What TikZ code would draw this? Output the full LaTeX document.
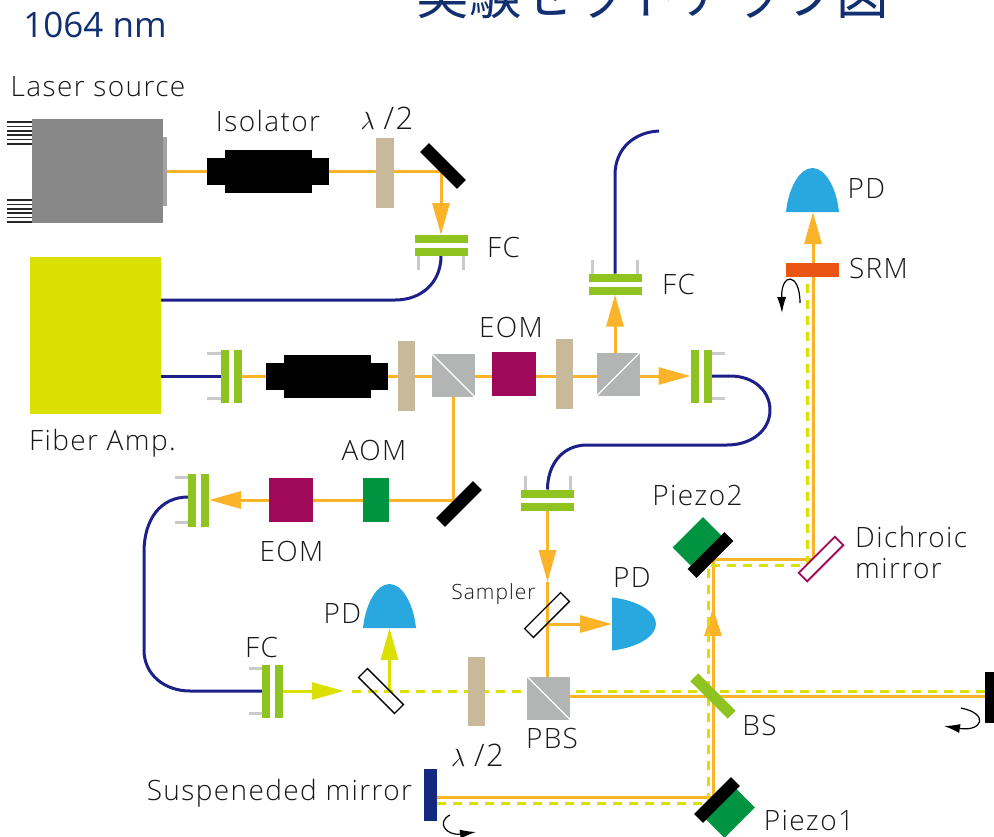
\documentclass[tikz,border=0pt]{standalone}
\usepackage{fontspec}
\setmainfont[LetterSpace=5]{Open Sans Light}
\newfontfamily\cjkfont{Noto Sans CJK JP}
\newfontfamily\headfont{Open Sans}
\usetikzlibrary{arrows.meta,backgrounds}
\definecolor{beamorange}{HTML}{FBB42A}
\definecolor{beamyellow}{HTML}{DCE000}
\definecolor{fibernavy}{HTML}{1D2088}
\definecolor{fcgreen}{HTML}{8FC31F}
\definecolor{waveplate}{HTML}{C8B99A}
\definecolor{cubegray}{HTML}{B3B5B4}
\definecolor{eomred}{HTML}{A0095A}
\definecolor{aomgreen}{HTML}{009440}
\definecolor{pdblue}{HTML}{29A8E0}
\definecolor{srmorange}{HTML}{EA5514}
\definecolor{titlenavy}{HTML}{12306F}
\definecolor{smirnavy}{HTML}{13297F}
\definecolor{laserbody}{HTML}{888888}
\definecolor{laserface}{HTML}{A3A3A3}
\definecolor{legsgray}{HTML}{C9CACA}
\tikzset{
  fibercoupler/.pic={
    \fill[legsgray] (-24,10) rectangle (-21,24);
    \fill[legsgray] (21,10) rectangle (24,24);
    \fill[fcgreen] (-26.5,-10.5) rectangle (26.5,-2.5);
    \fill[fcgreen] (-26.5,2.5) rectangle (26.5,10.5);
    \coordinate (-front) at (0,-10.5);
    \coordinate (-back) at (0,10.5);
  },
  photodiode/.pic={
    \fill[pdblue] (-26.5,0) .. controls (-24,-24) and (-13,-44) .. (0,-44) .. controls (13,-44) and (24,-24) .. (26.5,0) -- cycle;
    \coordinate (-base) at (0,0);
  }
}
\begin{document}
\begin{tikzpicture}[x=1pt,y=-1pt]
        \tikzstyle{block}=[rectangle,inner sep=0pt,outer sep=0pt]
        \tikzstyle{eom}=[block,fill=eomred,minimum width=44pt,minimum height=44pt]
        \tikzstyle{aom}=[block,fill=aomgreen,minimum width=26.5pt,minimum height=44pt]
        \tikzstyle{halfwave}=[block,fill=waveplate,minimum width=17.5pt,minimum height=69.5pt]
        \tikzstyle{cube}=[block,fill=cubegray,minimum width=43pt,minimum height=43pt]
        \tikzstyle{mirror}=[block,fill=black,minimum width=52pt,minimum height=12.5pt]
        \tikzstyle{sampler}=[block,draw=black,line width=1.3pt,minimum width=51pt,minimum height=12.5pt]
        \tikzstyle{pzt}=[block,fill=aomgreen,minimum width=43pt,minimum height=26pt]
        \tikzstyle{isoend}=[block,fill=black,minimum width=122pt,minimum height=27pt]
        \tikzstyle{isobody}=[block,fill=black,minimum width=87pt,minimum height=43pt]
        \tikzstyle{lbl}=[inner sep=0pt,text=black!90,font=\fontsize{28}{32}\selectfont]
        \tikzstyle{lamb}=[lbl,font=\fontsize{31}{36}\selectfont]
        \tikzstyle{beam}=[draw=beamorange,line width=3pt]
        \tikzstyle{seed}=[draw=beamyellow,line width=3pt]
        \tikzstyle{seeddash}=[seed,dash pattern=on 9pt off 7pt]
        \tikzstyle{fiber}=[draw=fibernavy,line width=3pt]
        \tikzstyle{head}=[-{Triangle[length=32pt,width=17pt]}]
        \tikzstyle{curl}=[draw=black,line width=1.2pt,-{Latex[length=16pt,width=9pt]}]
        \useasboundingbox (0,0) rectangle (994,836);
        \clip (0,0) rectangle (994,836);

        \node[anchor=base,inner sep=0pt,text=titlenavy,font=\cjkfont\fontsize{52.5}{56}\selectfont] (title) at (653,14) {実験セットアップ図};
        \node[inner sep=0pt,text=titlenavy,font=\headfont\fontsize{35}{40}\selectfont] (wavelength) at (95,25) {1064 nm};

        \foreach \y in {122,126.4,...,144} {\fill[black!85] (7,\y-0.8) rectangle (32,\y+0.8);}
        \foreach \y in {200,204.4,...,222} {\fill[black!85] (7,\y-0.8) rectangle (32,\y+0.8);}
        \node[block,fill=laserface,minimum width=4pt,minimum height=69pt] (lsrface) at (164.5,171) {};
        \node[block,fill=laserbody,minimum width=131pt,minimum height=104pt] (lsr) at (97.5,171) {};
        \node[isoend] (isoa) at (268,171) {};
        \node[isobody] (isoab) at (268,171) {};
        \node[halfwave] (wpa) at (385,173) {};
        \node[mirror,rotate=-45] (mira) at (443,166) {};
        \pic (fca) at (441,245.5) {fibercoupler};
        \node[block,fill=beamyellow,minimum width=131pt,minimum height=157pt] (amp) at (95.5,335.5) {};

        \pic[rotate=-90] (fcc) at (231,376) {fibercoupler};
        \node[isoend] (isob) at (327,376) {};
        \node[isobody] (isobb) at (327,376) {};
        \node[halfwave] (wpb) at (406.5,376) {};
        \node[cube] (pbsa) at (453.5,375.5) {};
        \node[eom] (eoma) at (514,374) {};
        \node[halfwave] (wpc) at (564.5,374) {};
        \node[cube] (pbsb) at (618,374.5) {};
        \pic[rotate=90] (fcd) at (701,376) {fibercoupler};
        \pic[rotate=180] (fcb) at (615,284) {fibercoupler};
        \pic[rotate=180] (fce) at (547.5,500) {fibercoupler};

        \node[mirror,rotate=45] (mirb) at (459,504) {};
        \node[aom] (aom) at (376,500) {};
        \node[eom] (eomb) at (291,500) {};
        \pic[rotate=-90] (fcf) at (198.5,500) {fibercoupler};
        \pic[rotate=-90] (fcg) at (272.5,691) {fibercoupler};

        \node[sampler,rotate=45] (smpa) at (547,615) {};
        \pic[rotate=-90] (pda) at (612,624) {photodiode};
        \node[sampler,rotate=-45] (smpb) at (381,691) {};
        \pic (pdb) at (389.5,628) {photodiode};
        \node[halfwave] (wpd) at (476.5,691.5) {};
        \node[cube] (pbsc) at (548.5,698) {};
        \node[block,fill=fcgreen,rotate=-45,minimum width=53pt,minimum height=11pt] (bs) at (713,696) {};
        \node[block,fill=black,minimum width=18pt,minimum height=51pt] (mirend) at (994,697.5) {};
        \node[block,fill=smirnavy,minimum width=13pt,minimum height=52pt] (smir) at (430.5,795) {};

        \node[pzt,rotate=45] (pzb) at (697,541.5) {};
        \node[mirror,rotate=45] (mirc) at (710.5,555) {};
        \node[pzt,rotate=45] (pza) at (730.5,813.5) {};
        \node[mirror,rotate=45] (mird) at (717,800) {};
        \node[block,draw=eomred,fill=white,line width=1.8pt,rotate=45,minimum width=51pt,minimum height=12pt] (dich) at (821,559) {};
        \node[block,fill=srmorange,minimum width=53pt,minimum height=14pt] (srm) at (812.5,270) {};
        \pic (pdc) at (812.5,212) {photodiode};

        \draw[white,line width=1.2pt] (pbsa.north west) -- (pbsa.south east);
        \draw[white,line width=1.2pt] (pbsb.south west) -- (pbsb.north east);
        \draw[white,line width=1.2pt] (pbsc.north west) -- (pbsc.south east);

        \coordinate (mirahit) at (441,171);
        \coordinate (ampouta) at (161,300);
        \coordinate (ampoutb) at (161,376);
        \coordinate (fibend) at (659,131);
        \coordinate (mirbhit) at (453.5,500);
        \coordinate (aimsmpa) at (547.5,582);
        \coordinate (smpaout) at (547.5,624);
        \coordinate (pbscout) at (570,696);
        \coordinate (endhit) at (985,696);
        \coordinate (smirhit) at (437,797);
        \coordinate (mirdhit) at (713,797);
        \coordinate (mirchit) at (713,559);
        \coordinate (dichhit) at (813,559);
        \coordinate (srmhit) at (813,277);
        \coordinate (bshead) at (713,640);
        \coordinate (bstip) at (713,608);
        \coordinate (seedtip) at (344,691);
        \coordinate (seedgap) at (352,691);
        \coordinate (seedpick) at (389.5,691);
        \coordinate (seedend) at (985,691);
        \coordinate (seedsmir) at (437,803);
        \coordinate (seedmird) at (708,803);
        \coordinate (seedmirc) at (708,565);
        \coordinate (seeddich) at (807,565);
        \coordinate (seedsrm) at (807,277);
        \coordinate (srmtop) at (813,263);
        \coordinate (pdctip) at (813,212);

        \begin{scope}[on background layer]
        \draw[beam] (lsrface.east) -- (isoa.west);
        \draw[beam] (isoa.east) -- (wpa.west |- isoa.east);
        \draw[beam] (wpa.east |- isoa.east) -- (mirahit);
        \draw[beam,head] (mirahit) -- (fca-front);
        \draw[beam] (fcc-front) -- (isob.west);
        \draw[beam] (isob.east) -- (pbsa.west |- isob.east);
        \draw[beam] (pbsa.east |- isob.east) -- (eoma.west |- isob.east);
        \draw[beam] (eoma.east |- isob.east) -- (wpc.west |- isob.east);
        \draw[beam] (wpc.east |- isob.east) -- (pbsb.west |- isob.east);
        \draw[beam,head] (fcb-front |- pbsb.north) -- (fcb-front);
        \draw[beam,head] (pbsb.east |- fcd-front) -- (fcd-front);
        \draw[beam] (pbsa.south) -- (mirbhit) -- (aom.east);
        \draw[beam] (aom.west) -- (eomb.east);
        \draw[beam,head] (eomb.west) -- (fcf-front);
        \draw[beam,head] (fce-front) -- (aimsmpa);
        \draw[beam] (aimsmpa) -- (pbsc.north -| aimsmpa);
        \draw[beam,head] (smpaout) -- (pda-base);
        \draw[beam] (pbscout) -- (endhit);
        \draw[beam] (smirhit) -- (mirdhit) -- (mirchit) -- (dichhit) -- (srmhit);
        \draw[beam,-{Triangle[length=28pt,width=17pt]}] (bshead) -- (bstip);
        \draw[beam,head] (srmtop) -- (pdctip);

        \draw[seed,head] (fcg-front) -- (seedtip);
        \draw[seed,head] (seedpick) -- (pdb-base);
        \draw[seeddash] (seedgap) -- (seedend);
        \draw[seeddash] (seedsmir) -- (seedmird) -- (seedmirc) -- (seeddich) -- (seedsrm);

        \draw[fiber] (fca-back) .. controls (441,282) and (422,300) .. (395,300) -- (ampouta);
        \draw[fiber] (ampoutb) -- (fcc-back);
        \draw[fiber] (fcb-back) -- (615,175) .. controls (615,148) and (635,132) .. (fibend);
        \draw[fiber] (fcd-back) -- (730,376) .. controls (755,376) and (770,392) .. (770,410) .. controls (770,430) and (752,445) .. (727,445) -- (587,445) .. controls (562,445) and (547.5,465) .. (fce-back);
        \draw[fiber] ([yshift=3pt]fcf-back) .. controls (160,497) and (144,520) .. (144,552) -- (144,650) .. controls (144,675) and (165,691) .. (190,691) -- (fcg-back);
        \end{scope}

        \draw[curl] (800,303) .. controls (800,272) and (781,272) .. (782,313);
        \draw[curl] (961,708) .. controls (990,714) and (982,732) .. (944,726);
        \draw[curl] (450,815) .. controls (436,822) and (446,836) .. (476,832);

        \node[lbl] (lbllaser) at (98,87) {Laser source};
        \node[lbl] (lbliso) at (268,121) {Isolator};
        \node[lamb] (lblwpa) at (387,118) {$\lambda$\;/2};
        \node[lbl] (lblfca) at (503.5,247) {FC};
        \node[lbl] (lblfcb) at (678.5,284) {FC};
        \node[lbl] (lblpdc) at (866.5,189) {PD};
        \node[lbl] (lblsrm) at (878.5,268) {SRM};
        \node[lbl] (lbleoma) at (511,327) {EOM};
        \node[lbl] (lblamp) at (102.5,443) {Fiber Amp.};
        \node[lbl] (lblaom) at (374,450) {AOM};
        \node[lbl] (lbleomb) at (291.5,551) {EOM};
        \node[lbl] (lblpzb) at (697.5,495) {Piezo2};
        \node[lbl,align=left,anchor=west] (lbldich) at (855,552) {Dichroic\\[-1pt]mirror};
        \node[lbl,font=\fontsize{21}{24}\selectfont] (lblsmp) at (493.5,594) {Sampler};
        \node[lbl] (lblpda) at (632,577) {PD};
        \node[lbl] (lblpdb) at (342.5,613) {PD};
        \node[lbl] (lblfcg) at (261.5,647) {FC};
        \node[lbl] (lblpbs) at (552,738) {PBS};
        \node[lamb] (lblwpd) at (477.5,755) {$\lambda$\;/2};
        \node[lbl] (lblsmir) at (279.5,793) {Suspeneded mirror};
        \node[lbl] (lblbs) at (759.5,725) {BS};
        \node[lbl] (lblpza) at (809,820) {Piezo1};
    \end{tikzpicture}
\end{document}
